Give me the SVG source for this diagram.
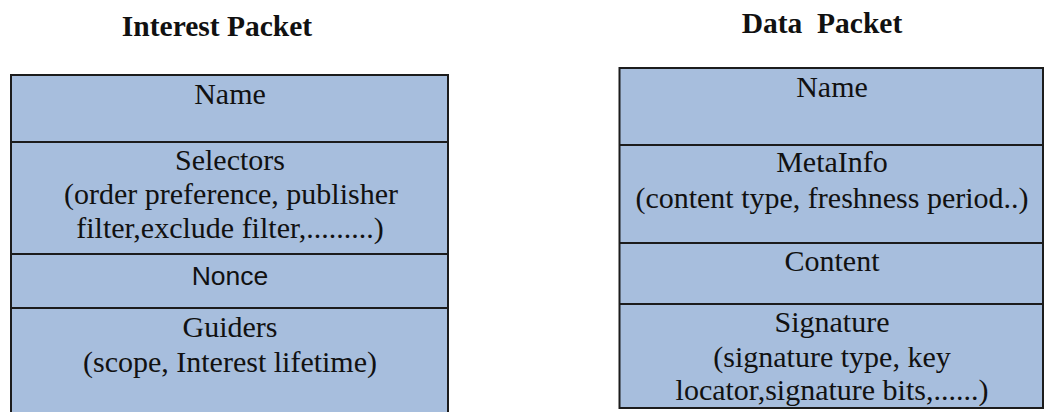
<svg xmlns="http://www.w3.org/2000/svg" width="1045" height="412" viewBox="0 0 1045 412">
  <style>
    .title { font-family: 'Liberation Serif', 'DejaVu Serif', serif; font-weight: 700; font-size: 29.5px; fill: #111; }
    .field { font-family: 'Liberation Serif', 'DejaVu Serif', serif; font-weight: 400; font-size: 30px; fill: #111; text-anchor: middle; }
    .sans { font-family: 'Liberation Sans', Arial, sans-serif; font-size: 26.5px; fill: #111; text-anchor: middle; }
    .cell { fill: #A7BEDD; stroke: none; }
    .edge { stroke: #1c1c1c; stroke-width: 2; fill: none; }
  </style>
  <rect width="1045" height="412" fill="#ffffff"/>

  <!-- Interest packet layout -->
  <g id="interest-packet">
    <text class="title" x="217" y="35.5" text-anchor="middle">Interest Packet</text>
    <rect class="cell" x="11" y="75" width="437" height="340"/>
    <g id="interest-name">
      <text class="field" x="230" y="104">Name</text>
    </g>
    <g id="interest-selectors">
      <text class="field" x="230" y="170">Selectors</text>
      <text class="field" x="231" y="204">(order preference, publisher</text>
      <text class="field" x="230" y="238">filter,exclude filter,.........)</text>
    </g>
    <g id="interest-nonce">
      <text class="sans" x="230" y="285">Nonce</text>
    </g>
    <g id="interest-guiders">
      <text class="field" x="230" y="337">Guiders</text>
      <text class="field" x="230" y="372">(scope, Interest lifetime)</text>
    </g>
    <path class="edge" d="M11 415 V75 H448 V415"/>
    <path class="edge" d="M11 142 H448 M11 254 H448 M11 308 H448"/>
  </g>

  <!-- Data packet layout -->
  <g id="data-packet">
    <text class="title" x="822" y="33" text-anchor="middle" xml:space="preserve">Data  Packet</text>
    <rect class="cell" x="619.5" y="68" width="423.5" height="340"/>
    <g id="data-name">
      <text class="field" x="832" y="97">Name</text>
    </g>
    <g id="data-metainfo">
      <text class="field" x="832" y="172">MetaInfo</text>
      <text class="field" x="832" y="208">(content type, freshness period..)</text>
    </g>
    <g id="data-content">
      <text class="field" x="832" y="271">Content</text>
    </g>
    <g id="data-signature">
      <text class="field" x="832" y="332">Signature</text>
      <text class="field" x="832" y="367">(signature type, key</text>
      <text class="field" x="832" y="400">locator,signature bits,......)</text>
    </g>
    <rect class="edge" x="619.5" y="68" width="423.5" height="340"/>
    <path class="edge" d="M619.5 145 H1043 M619.5 243 H1043 M619.5 304 H1043"/>
  </g>
</svg>
